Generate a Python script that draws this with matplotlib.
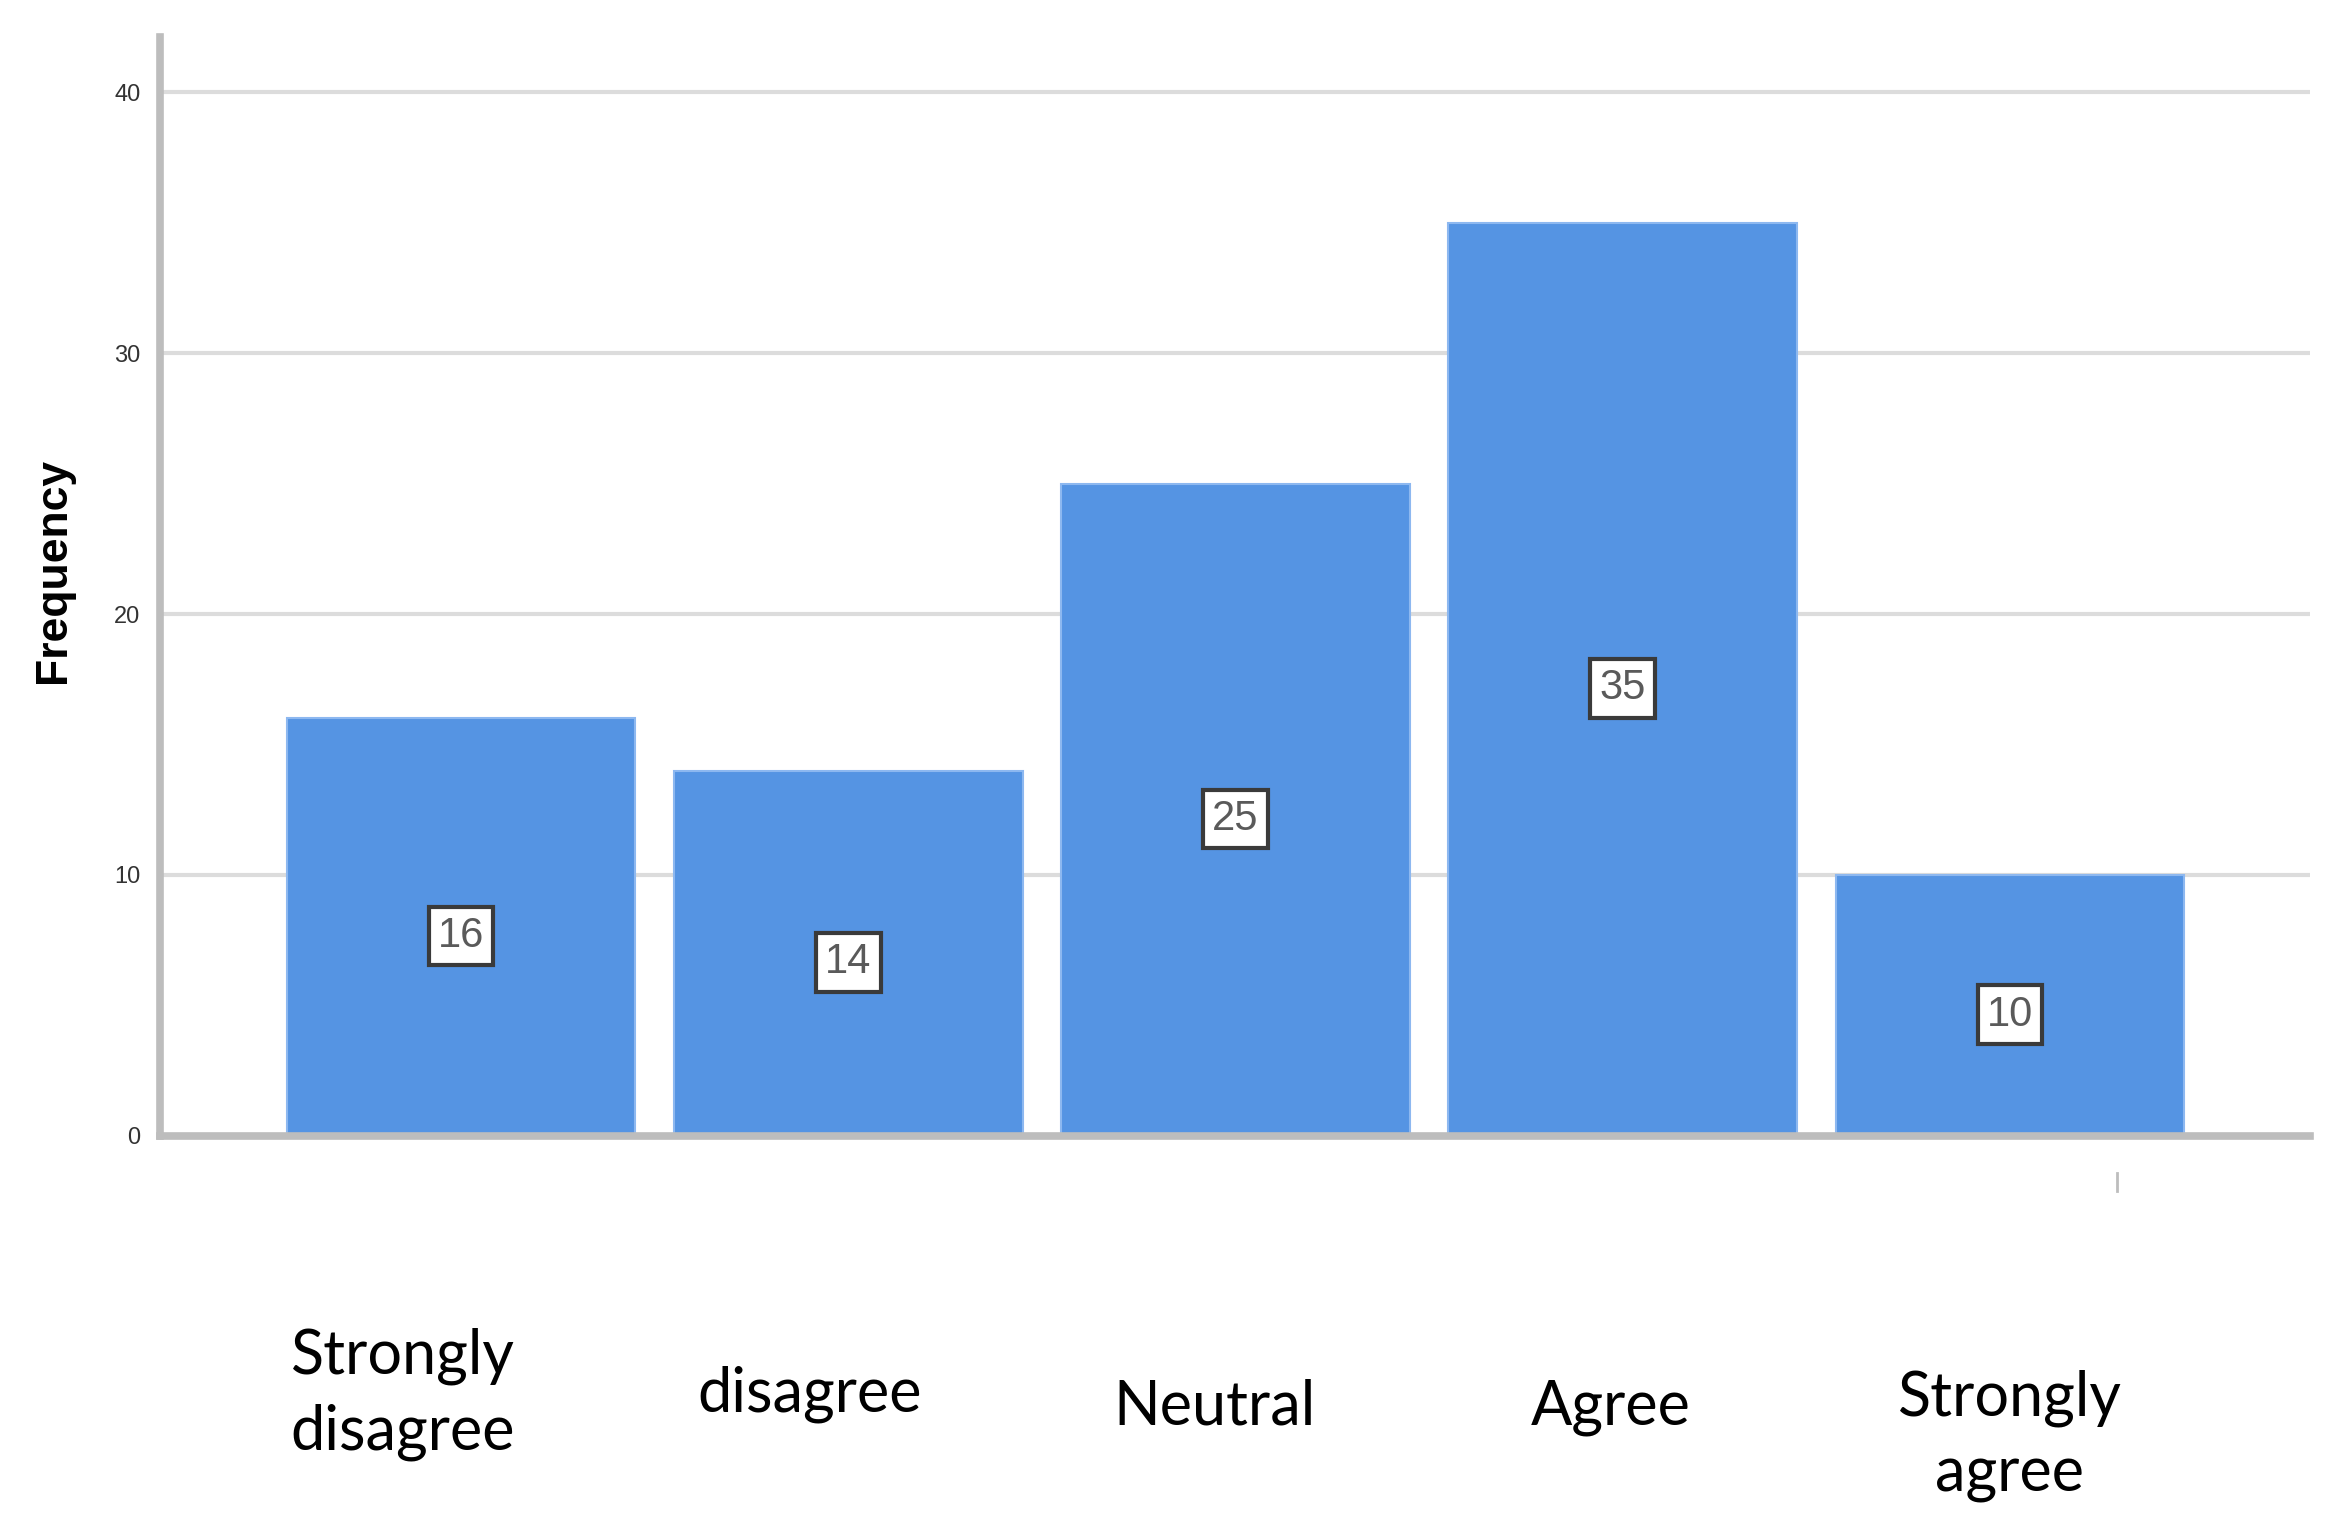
import matplotlib.pyplot as plt
from matplotlib.lines import Line2D

# survey response counts
categories = ["Strongly\ndisagree", "disagree", "Neutral", "Agree", "Strongly\nagree"]
frequency = [16, 14, 25, 35, 10]
yticks = [0, 10, 20, 30, 40]

# small nudges so the category text sits like the original
label_dx = [-0.15, -0.10, -0.055, -0.03, 0.0]
label_y = [-9.9, -9.9, -10.4, -10.4, -11.5]

bar_color = "#5594E3"
axis_gray = "#BDBDBD"

fig = plt.figure(figsize=(23.44, 15.29), dpi=100)
ax = fig.add_axes([0.0682, 0.2571, 0.9171, 0.7185])

x = list(range(len(categories)))
ax.bar(x, frequency, width=0.9, color=bar_color, edgecolor="#8DB8F0",
       linewidth=1.5, zorder=3)

for i, v in enumerate(frequency):
    ax.text(i, v / 2 - 0.35, str(v), ha="center", va="center", fontsize=30,
            family="Liberation Sans", color="#5a5a5a", zorder=5,
            bbox=dict(boxstyle="square,pad=0.22", facecolor="white",
                      edgecolor="#3a3a3a", linewidth=3))

for i, lab in enumerate(categories):
    ax.text(i + label_dx[i], label_y[i], lab, ha="center", va="center",
            fontsize=44, family="Lato", color="black", linespacing=1.4,
            clip_on=False)

ax.set_xlim(-0.778, 4.774)
ax.set_ylim(0, 42.1)
ax.set_xticks([])
ax.set_yticks(yticks)
ax.set_yticklabels([str(t) for t in yticks], fontsize=17,
                   family="Liberation Sans", color="#333333")
ax.tick_params(axis="y", length=0, pad=14)
ax.yaxis.grid(True, color="#DCDCDC", linewidth=3, zorder=0)
ax.set_axisbelow(True)

ax.spines["top"].set_visible(False)
ax.spines["right"].set_visible(False)
ax.spines["left"].set_color(axis_gray)
ax.spines["left"].set_linewidth(5.5)
ax.spines["bottom"].set_color(axis_gray)
ax.spines["bottom"].set_linewidth(5.5)
ax.spines["bottom"].set_zorder(4)

ax.set_ylabel("Frequency", fontsize=32, fontweight="bold",
              family="Liberation Sans")
ax.yaxis.set_label_coords(-0.04, 0.515)

# stray tick mark under the last bar
fig.add_artist(Line2D([0.903, 0.903], [0.2327, 0.2209], color=axis_gray, lw=2))

fig.savefig("out.png", dpi=100)
